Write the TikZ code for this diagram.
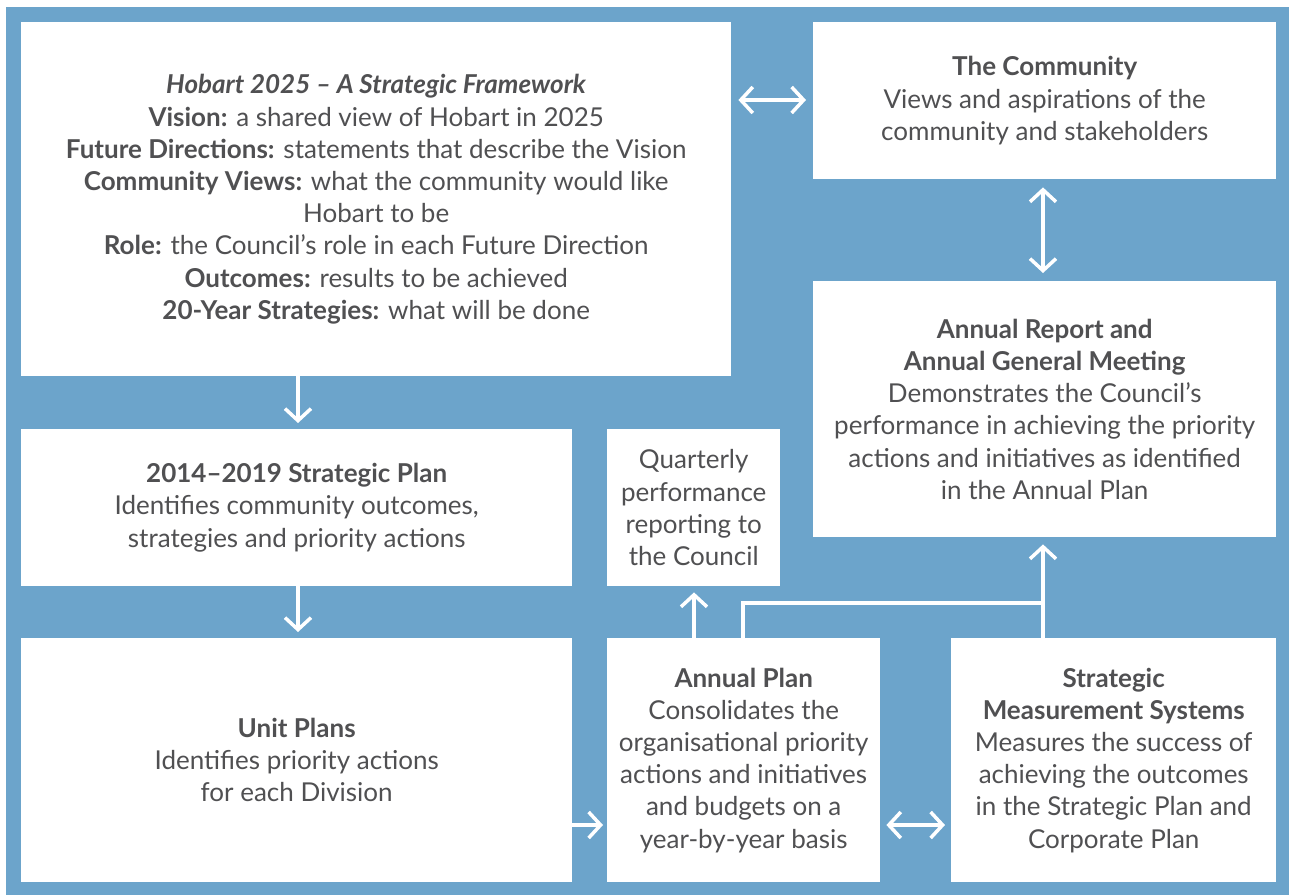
\documentclass[tikz,border=0pt]{standalone}
\usepackage{fontspec}
\setmainfont{Lato}
\usetikzlibrary{arrows.meta, positioning}
\definecolor{panel}{RGB}{108,164,203}
\definecolor{ink}{RGB}{80,80,82}

\begin{document}
\begin{tikzpicture}[
    x=1pt, y=-1pt,
    node distance=52pt,
    box/.style={rectangle, fill=white, text=ink, align=center, inner sep=0pt, font=\fontsize{26}{32.2}\selectfont},
    link/.style={draw=white, line width=3.5pt, -{Straight Barb[length=12pt, width=26pt]}},
    dlink/.style={link, {Straight Barb[length=12pt, width=26pt]}-{Straight Barb[length=12pt, width=26pt]}}
]
\useasboundingbox (0,0) rectangle (1289,895);
\fill[panel] (6,7) rectangle (1289,895);

% left column
\node[box, anchor=north west, minimum width=710pt, minimum height=354pt] (frame) at (21,22)
  {\textbf{\textit{Hobart 2025 – A Strategic Framework}}\\
   \textbf{Vision:} a shared view of Hobart in 2025\\
   \textbf{Future Directions:} statements that describe the Vision\\
   \textbf{Community Views:} what the community would like\\
   Hobart to be\\
   \textbf{Role:} the Council’s role in each Future Direction\\
   \textbf{Outcomes:} results to be achieved\\
   \textbf{20-Year Strategies:} what will be done};
\node[box, anchor=north west, minimum width=551pt, minimum height=157pt] (splan) at (21,429)
  {\textbf{2014–2019 Strategic Plan}\\
   Identifies community outcomes,\\
   strategies and priority actions};
\node[box, anchor=north west, minimum width=551pt, minimum height=244pt] (unit) at (21,638)
  {\textbf{Unit Plans}\\
   Identifies priority actions\\
   for each Division};

% middle column
\node[box, anchor=north west, minimum width=173pt, minimum height=157pt] (qtr) at (607,429)
  {Quarterly\\performance\\reporting to\\the Council};
\node[box, anchor=north west, minimum width=273pt, minimum height=244pt] (aplan) at (607,638)
  {\textbf{Annual Plan}\\
   Consolidates the\\
   organisational priority\\
   actions and initiatives\\
   and budgets on a\\
   year-by-year basis};

% right column
\node[box, anchor=north west, minimum width=463pt, minimum height=157pt] (comm) at (813,22)
  {\textbf{The Community}\\
   Views and aspirations of the\\
   community and stakeholders};
\node[box, anchor=north west, minimum width=463pt, minimum height=256pt] (report) at (813,281)
  {\textbf{Annual Report and}\\
   \textbf{Annual General Meeting}\\
   Demonstrates the Council’s\\
   performance in achieving the priority\\
   actions and initiatives as identified\\
   in the Annual Plan};
\node[box, anchor=north west, minimum width=325pt, minimum height=244pt] (sms) at (951,638)
  {\textbf{Strategic}\\
   \textbf{Measurement Systems}\\
   Measures the success of\\
   achieving the outcomes\\
   in the Strategic Plan and\\
   Corporate Plan};

% connectors
\coordinate (join) at (1043,603);
\draw[dlink] ([xshift=7pt]frame.east |- 0,100) -- ([xshift=-7pt]comm.west |- 0,100);
\draw[dlink] ([yshift=-8pt]comm.south -| join) -- ([yshift=8pt]report.north -| join);
\draw[link] (frame.south -| 298,0) -- ([yshift=6pt]splan.north -| 298,0);
\draw[link] (splan.south -| 298,0) -- ([yshift=6pt]unit.north -| 298,0);
\draw[link] (unit.east |- 0,825) -- ([xshift=-4pt]aplan.west |- 0,825);
\draw[dlink] ([xshift=6pt]aplan.east |- 0,825) -- ([xshift=-6pt]sms.west |- 0,825);
\draw[link] (aplan.north -| 694,0) -- ([yshift=-6pt]qtr.south -| 694,0);
\draw[draw=white, line width=3.5pt] (aplan.north -| 743,0) |- (join);
\draw[link] (sms.north -| join) -- ([yshift=-7pt]report.south -| join);
\end{tikzpicture}
\end{document}
